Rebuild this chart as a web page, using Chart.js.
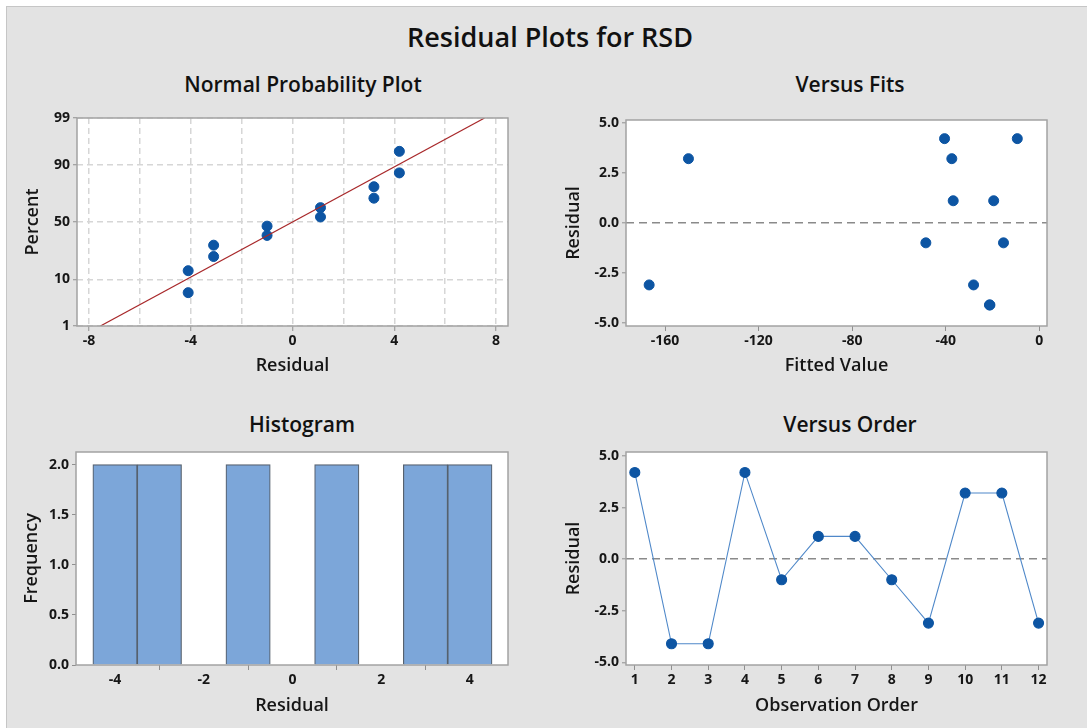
<!DOCTYPE html>
<html>
<head>
<meta charset="utf-8">
<title>Residual Plots for RSD</title>
<script src="https://cdn.jsdelivr.net/npm/chart.js@4.4.1/dist/chart.umd.min.js"></script>
<style>
  html, body { margin: 0; padding: 0; background: #fff; width: 1087px; height: 728px; overflow: hidden; }
  #panel { position: absolute; left: 6px; top: 6px; width: 1081px; height: 722px; background: #e3e3e3;
           border-left: 1px solid #c6c6c6; border-top: 1px solid #c6c6c6; box-sizing: border-box; }
  canvas { position: absolute; }
  .ttl { position: absolute; transform: translate(-50%, -50%); font-family: 'Open Sans', sans-serif;
         font-weight: 600; color: #111; white-space: nowrap; line-height: 1; }
</style>
</head>
<body>
<div id="panel"></div>
<div class="ttl" style="left:550px; top:36px; font-size:27px;">Residual Plots for RSD</div>
<div class="ttl" style="left:303px; top:84px; font-size:21px;">Normal Probability Plot</div>
<div class="ttl" style="left:850px; top:84px; font-size:21px;">Versus Fits</div>
<div class="ttl" style="left:302px; top:424px; font-size:21px;">Histogram</div>
<div class="ttl" style="left:850px; top:424px; font-size:21px;">Versus Order</div>
<canvas id="npp" width="542" height="336" style="left:6px; top:56px;"></canvas>
<canvas id="fits" width="539" height="336" style="left:548px; top:56px;"></canvas>
<canvas id="hist" width="542" height="336" style="left:6px; top:392px;"></canvas>
<canvas id="order" width="539" height="336" style="left:548px; top:392px;"></canvas>
<script>
// residuals in observation order
const obsOrder = [1, 2, 3, 4, 5, 6, 7, 8, 9, 10, 11, 12];
const residuals = [4.2, -4.1, -4.1, 4.2, -1.0, 1.1, 1.1, -1.0, -3.1, 3.2, 3.2, -3.1];
const fittedValues = [-40.5, -21.3, -21.1, -9.4, -48.5, -36.8, -19.5, -15.3, -166.8, -150.0, -37.4, -28.1];

// normal probability plot
const sortedResiduals = [-4.1, -4.1, -3.1, -3.1, -1.0, -1.0, 1.1, 1.1, 3.2, 3.2, 4.2, 4.2];
const probPercent = [5.7, 13.8, 22.0, 30.2, 38.2, 46.3, 54.5, 62.6, 70.3, 78.5, 86.4, 94.3];
const fitLineX = [-7.55, 7.55];
const fitLineP = [1, 99];
const probTicks = [1, 10, 50, 90, 99];

// histogram
const binCenters = [-4, -3, -2, -1, 0, 1, 2, 3, 4];
const binCounts = [2, 2, 0, 2, 0, 2, 0, 2, 2];

const FONT = "'Open Sans', sans-serif";
const TEXT = '#161616';
const TICK_GRAY = '#8f8f8f';
const BLUE = '#0d55a3';
const NONE = 'rgba(0,0,0,0)';

Chart.defaults.font.family = FONT;
Chart.defaults.color = TEXT;
Chart.defaults.animation = false;

// inverse normal cdf (Acklam) for the probability axis
function probit(p) {
  const a = [-39.69683028665376, 220.9460984245205, -275.9285104469687, 138.3577518672690, -30.66479806614716, 2.506628277459239];
  const b = [-54.47609879822406, 161.5858368580409, -155.6989798598866, 66.80131188771972, -13.28068155288572];
  const c = [-0.007784894002430293, -0.3223964580411365, -2.400758277161838, -2.549732539343734, 4.374664141464968, 2.938163982698783];
  const d = [0.007784695709041462, 0.3224671290700398, 2.445134137142996, 3.754408661907416];
  const pl = 0.02425;
  let q, r;
  if (p < pl) {
    q = Math.sqrt(-2 * Math.log(p));
    return (((((c[0]*q+c[1])*q+c[2])*q+c[3])*q+c[4])*q+c[5]) / ((((d[0]*q+d[1])*q+d[2])*q+d[3])*q+1);
  }
  if (p > 1 - pl) {
    q = Math.sqrt(-2 * Math.log(1 - p));
    return -(((((c[0]*q+c[1])*q+c[2])*q+c[3])*q+c[4])*q+c[5]) / ((((d[0]*q+d[1])*q+d[2])*q+d[3])*q+1);
  }
  q = p - 0.5; r = q * q;
  return (((((a[0]*r+a[1])*r+a[2])*r+a[3])*r+a[4])*r+a[5])*q / (((((b[0]*r+b[1])*r+b[2])*r+b[3])*r+b[4])*r+1);
}

class ProbitScale extends Chart.LinearScale {
  buildTicks() {
    return probTicks.map(v => ({ value: v }));
  }
  getPixelForValue(v) {
    const lo = probit(this.min / 100), hi = probit(this.max / 100);
    return this.getPixelForDecimal((probit(v / 100) - lo) / (hi - lo));
  }
  getValueForPixel(px) {
    return this.min + (this.max - this.min) * this.getDecimalForPixel(px);
  }
}
ProbitScale.id = 'probit';
ProbitScale.defaults = Chart.LinearScale.defaults;
Chart.register(ProbitScale);

// white plot area and grey frame
const plotFrame = {
  id: 'plotFrame',
  beforeDraw(chart) {
    const a = chart.chartArea, ctx = chart.ctx;
    ctx.save();
    ctx.fillStyle = '#fff';
    ctx.fillRect(a.left, a.top, a.width, a.height);
    ctx.restore();
  },
  afterDraw(chart) {
    const a = chart.chartArea, ctx = chart.ctx;
    ctx.save();
    ctx.strokeStyle = '#a3a3a3';
    ctx.lineWidth = 1.5;
    ctx.strokeRect(a.left, a.top, a.width, a.height);
    ctx.restore();
  }
};
Chart.register(plotFrame);

const tickFont = { size: 14, weight: 'bold' };
const titleFont = { size: 18, weight: '600' };

function xAxis(title, height, extra) {
  return Object.assign({
    type: 'linear',
    position: 'bottom',
    offset: false,
    border: { display: false },
    title: { display: true, text: title, font: titleFont, color: TEXT, padding: 0 },
    ticks: { font: tickFont, color: TEXT, padding: 2, maxRotation: 0, autoSkip: false, includeBounds: false },
    grid: { color: NONE, tickColor: TICK_GRAY, tickLength: 5, tickWidth: 1 },
    afterFit: s => { s.height = height; }
  }, extra);
}

function yAxis(title, width, extra) {
  return Object.assign({
    type: 'linear',
    position: 'left',
    border: { display: false },
    title: { display: true, text: title, font: titleFont, color: TEXT, padding: 0 },
    ticks: { font: tickFont, color: TEXT, padding: 3, autoSkip: false, includeBounds: false },
    grid: { color: NONE, tickColor: TICK_GRAY, tickLength: 4, tickWidth: 1 },
    afterFit: s => { s.width = width; }
  }, extra);
}

const zeroLine = {
  color: c => (c.tick && c.tick.value === 0 ? '#8a8a8a' : NONE),
  lineWidth: 1.6,
  tickColor: TICK_GRAY, tickLength: 4, tickWidth: 1, tickBorderDash: []
};

// Normal Probability Plot
new Chart(document.getElementById('npp'), {
  type: 'scatter',
  data: {
    datasets: [
      {
        type: 'line',
        data: fitLineX.map((x, i) => ({ x: x, y: fitLineP[i] })),
        borderColor: '#a8282a', borderWidth: 1.2, pointRadius: 0, fill: false
      },
      {
        data: sortedResiduals.map((x, i) => ({ x: x, y: probPercent[i] })),
        backgroundColor: BLUE, borderColor: BLUE, pointRadius: 5, pointHoverRadius: 5
      }
    ]
  },
  options: {
    responsive: false,
    layout: { padding: { left: 16, right: 40, top: 62, bottom: 15 } },
    plugins: { legend: { display: false }, tooltip: { enabled: false } },
    scales: {
      x: xAxis('Residual', 51, {
        min: -8.47, max: 8.47,
        ticks: { font: tickFont, color: TEXT, padding: 2, maxRotation: 0, autoSkip: false, includeBounds: false,
                 stepSize: 2, callback: v => (v % 4 === 0 ? v : '') },
        grid: { color: '#d6d6d6', lineWidth: 1.5, tickLength: 5, tickWidth: 1, tickBorderDash: [],
                tickColor: c => (c.tick && c.tick.value % 4 === 0 ? TICK_GRAY : NONE) },
        border: { display: false, dash: [6, 4] }
      }),
      y: yAxis('Percent', 55, {
        type: 'probit',
        min: 1, max: 99,
        ticks: { font: tickFont, color: TEXT, padding: 3, autoSkip: false, callback: v => String(v) },
        grid: { color: '#d6d6d6', lineWidth: 1.5, tickColor: TICK_GRAY, tickLength: 4, tickWidth: 1, tickBorderDash: [] },
        border: { display: false, dash: [6, 4] }
      })
    }
  }
});

// Versus Fits
new Chart(document.getElementById('fits'), {
  type: 'scatter',
  data: {
    datasets: [{
      data: fittedValues.map((x, i) => ({ x: x, y: residuals[i] })),
      backgroundColor: BLUE, borderColor: BLUE, pointRadius: 5, pointHoverRadius: 5
    }]
  },
  options: {
    responsive: false,
    layout: { padding: { left: 15, right: 40, top: 64, bottom: 15 } },
    plugins: { legend: { display: false }, tooltip: { enabled: false } },
    scales: {
      x: xAxis('Fitted Value', 51, { min: -176.7, max: 3.3,
        ticks: { font: tickFont, color: TEXT, padding: 2, maxRotation: 0, autoSkip: false, includeBounds: false, stepSize: 40 } }),
      y: yAxis('Residual', 63, { min: -5.15, max: 5.13,
        ticks: { font: tickFont, color: TEXT, padding: 3, autoSkip: false, includeBounds: false, stepSize: 2.5,
                 callback: v => v.toFixed(1) },
        grid: zeroLine,
        border: { display: false, dash: [8, 5] } })
    }
  }
});

// Histogram
new Chart(document.getElementById('hist'), {
  type: 'bar',
  data: {
    datasets: [{
      data: binCenters.map((x, i) => ({ x: x, y: binCounts[i] })),
      backgroundColor: '#7ca6d9', borderColor: '#56616e', borderWidth: 1.2,
      barPercentage: 1, categoryPercentage: 1
    }]
  },
  options: {
    responsive: false,
    layout: { padding: { left: 15, right: 40, top: 60, bottom: 11 } },
    plugins: { legend: { display: false }, tooltip: { enabled: false } },
    scales: {
      x: xAxis('Residual', 52, { min: -4.88, max: 4.86,
        ticks: { font: tickFont, color: TEXT, padding: 2, maxRotation: 0, autoSkip: false, includeBounds: false, stepSize: 2 } }),
      y: yAxis('Frequency', 55, { min: 0, max: 2.126,
        ticks: { font: tickFont, color: TEXT, padding: 3, autoSkip: false, includeBounds: false, stepSize: 0.5,
                 callback: v => v.toFixed(1) } })
    }
  }
});

// Versus Order
new Chart(document.getElementById('order'), {
  type: 'line',
  data: {
    datasets: [{
      data: obsOrder.map((x, i) => ({ x: x, y: residuals[i] })),
      borderColor: '#4f88c9', borderWidth: 1.1,
      pointBackgroundColor: BLUE, pointBorderColor: BLUE, pointRadius: 5, pointHoverRadius: 5,
      tension: 0, fill: false
    }]
  },
  options: {
    responsive: false,
    layout: { padding: { left: 15, right: 40, top: 60, bottom: 11 } },
    plugins: { legend: { display: false }, tooltip: { enabled: false } },
    scales: {
      x: xAxis('Observation Order', 52, { min: 0.76, max: 12.23,
        ticks: { font: tickFont, color: TEXT, padding: 2, maxRotation: 0, autoSkip: false, includeBounds: false, stepSize: 1 } }),
      y: yAxis('Residual', 63, { min: -5.13, max: 5.19,
        ticks: { font: tickFont, color: TEXT, padding: 3, autoSkip: false, includeBounds: false, stepSize: 2.5,
                 callback: v => v.toFixed(1) },
        grid: zeroLine,
        border: { display: false, dash: [8, 5] } })
    }
  }
});
</script>
</body>
</html>
